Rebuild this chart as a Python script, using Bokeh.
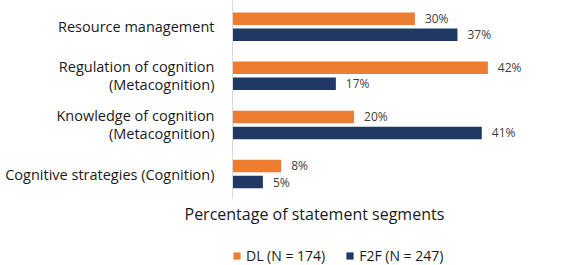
from bokeh.plotting import figure
from bokeh.layouts import column
from bokeh.models import (ColumnDataSource, Range1d, FixedTicker, Legend, LegendItem, Title)
from bokeh.core.properties import value
from bokeh.transform import dodge
from bokeh.embed import file_html
from bokeh.resources import INLINE

categories = ["Resource management",
              "Regulation of cognition\n(Metacognition)",
              "Knowledge of cognition\n(Metacognition)",
              "Cognitive strategies (Cognition)"]
dl_values = [30, 42, 20, 8]
f2f_values = [37, 17, 41, 5]
series_names = ["DL (N = 174)", "F2F (N = 247)"]
x_title = "Percentage of statement segments"

FONT = "Open Sans"
ORANGE = "#ED7D31"
NAVY = "#1F3864"
TXT = "#1a1a1a"

pos = list(range(len(categories)))
src = ColumnDataSource(dict(
    pos=pos, dl=dl_values, f2f=f2f_values,
    dl_lbl=[f"{v}%" for v in dl_values],
    f2f_lbl=[f"{v}%" for v in f2f_values],
))

# ---- main bar chart ----
p = figure(width=567, height=226, output_backend="svg", toolbar_location=None,
           x_range=Range1d(0, 50), y_range=Range1d(3.499, -0.534),
           x_axis_location=None, min_border_left=232, min_border_right=31,
           min_border_top=0, min_border_bottom=28)
p.outline_line_color = None
p.xgrid.visible = False
p.ygrid.visible = False

p.hbar(y=dodge("pos", -0.163, range=p.y_range), right="dl", left=0, height=0.255,
       source=src, fill_color=ORANGE, line_color=None)
p.hbar(y=dodge("pos", 0.163, range=p.y_range), right="f2f", left=0, height=0.255,
       source=src, fill_color=NAVY, line_color=None)

p.text(x="dl", y=dodge("pos", -0.163, range=p.y_range), text="dl_lbl", source=src,
       x_offset=10, text_baseline="middle", text_align="left",
       text_font_size="12px", text_color="#404040", text_font=value(FONT))
p.text(x="f2f", y=dodge("pos", 0.163, range=p.y_range), text="f2f_lbl", source=src,
       x_offset=10, text_baseline="middle", text_align="left",
       text_font_size="12px", text_color="#404040", text_font=value(FONT))

ya = p.yaxis[0]
ya.ticker = FixedTicker(ticks=pos)
ya.major_label_overrides = {i: c for i, c in enumerate(categories)}
ya.major_tick_line_color = None
ya.minor_tick_line_color = None
ya.axis_line_color = "#D9D9D9"
ya.major_label_text_font = FONT
ya.major_label_text_font_size = "14.5px"
ya.major_label_text_color = TXT
ya.major_label_text_line_height = 0.95
ya.major_label_standoff = 12

p.add_layout(Title(text=x_title, align="left", offset=-48,
                   text_font=FONT, text_font_size="16px", text_font_style="normal",
                   text_color=TXT, standoff=4), "below")

# ---- legend strip (its swatch renderers sit outside the visible range) ----
p2 = figure(width=567, height=39, output_backend="svg", toolbar_location=None,
            x_range=Range1d(0, 50), y_range=Range1d(10, 11),
            x_axis_location=None, y_axis_location=None,
            min_border_left=232, min_border_right=31,
            min_border_top=0, min_border_bottom=0)
p2.outline_line_color = None
p2.xgrid.visible = False
p2.ygrid.visible = False

d1 = p2.hbar(y="pos", right="dl", left=0, height=0.255, source=src,
             fill_color=ORANGE, line_color=None)
d2 = p2.hbar(y="pos", right="f2f", left=0, height=0.255, source=src,
             fill_color=NAVY, line_color=None)

legend = Legend(items=[LegendItem(label=series_names[0], renderers=[d1]),
                       LegendItem(label=series_names[1], renderers=[d2])],
                orientation="horizontal", location=(0, 0),
                label_text_font=FONT, label_text_font_size="14px", label_text_color=TXT,
                glyph_width=9, glyph_height=9, label_height=16, label_standoff=5,
                spacing=20, border_line_color=None,
                background_fill_alpha=0, padding=0, margin=0)
p2.add_layout(legend, "center")

layout = column(p, p2, spacing=0)
open("out.html", "w").write(file_html(layout, INLINE))
